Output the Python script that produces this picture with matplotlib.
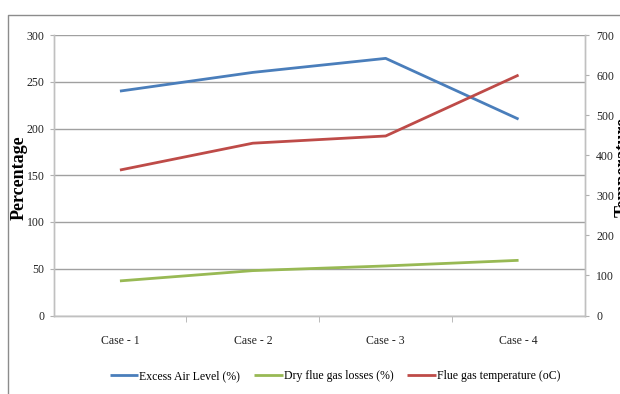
import matplotlib.pyplot as plt
from matplotlib.lines import Line2D

cases = ['Case - 1', 'Case - 2', 'Case - 3', 'Case - 4']
excess_air = [240, 260, 275, 210]
dry_flue_losses = [37, 48, 53, 59]
flue_gas_temp = [363, 430, 448, 600]

plt.rcParams['font.family'] = ['Liberation Serif', 'DejaVu Serif']

W, H = 620, 394
fig = plt.figure(figsize=(W / 100, H / 100), dpi=100)

# chart frame (clipped at the image edges)
fig.add_artist(Line2D([8 / W, 8 / W, 1.0], [0.0, 1 - 15 / H, 1 - 15 / H],
                      transform=fig.transFigure, color='#8c8c8c', lw=1.0))

left, right, top, bottom = 53.5, 585, 35, 315.5
ax = fig.add_axes([left / W, 1 - bottom / H, (right - left) / W, (bottom - top) / H])
ax2 = ax.twinx()

x = range(len(cases))
l1, = ax.plot(x, excess_air, color='#4a7ebb', lw=2.0, solid_capstyle='butt')
l2, = ax.plot(x, dry_flue_losses, color='#98b954', lw=2.0, solid_capstyle='butt')
l3, = ax2.plot(x, flue_gas_temp, color='#be4b48', lw=2.0, solid_capstyle='butt')

ax.set_xlim(-0.5, 3.5)
ax.set_ylim(0, 300)
ax.set_yticks(range(0, 301, 50))
ax2.set_ylim(0, 700)
ax2.set_yticks(range(0, 701, 100))

ax.set_xticks(list(x))
ax.set_xticklabels(cases)
ax.set_xticks([0.5, 1.5, 2.5], minor=True)
ax.tick_params(axis='x', which='major', length=0, pad=14, labelsize=8.5, colors='#222222')
ax.tick_params(axis='x', which='minor', length=4, color='#b0b0b0', direction='out')
ax.tick_params(axis='y', length=3, labelsize=8.5, pad=3.6, labelcolor='#222222',
               color='#b0b0b0')
ax2.tick_params(axis='y', length=3, labelsize=8.5, pad=5, labelcolor='#222222',
                color='#b0b0b0')

ax.grid(axis='y', color='#a0a0a0', lw=1.0)
ax.set_axisbelow(True)
for a in (ax, ax2):
    for side in ('left', 'right', 'bottom'):
        a.spines[side].set_color('#c0c0c0')
        a.spines[side].set_linewidth(1.0)
    a.spines['top'].set_visible(False)

fig.text(19.5 / W, 1 - 178 / H, 'Percentage', rotation=90, ha='center', va='center',
         fontsize=13, fontweight='bold')
fig.text(615 / W, 1 - 167 / H, 'Temperature', rotation=90, ha='left', va='center',
         fontsize=13, fontweight='bold')

fig.legend([l1, l2, l3],
           ['Excess Air Level (%)', 'Dry flue gas losses (%)', 'Flue gas temperature (oC)'],
           loc='center', bbox_to_anchor=(335 / W, 1 - 376 / H), ncol=3, frameon=False,
           fontsize=8.5, handlelength=2.4, handletextpad=0.1, columnspacing=1.2,
           borderaxespad=0)

fig.savefig('out.png', dpi=100)
